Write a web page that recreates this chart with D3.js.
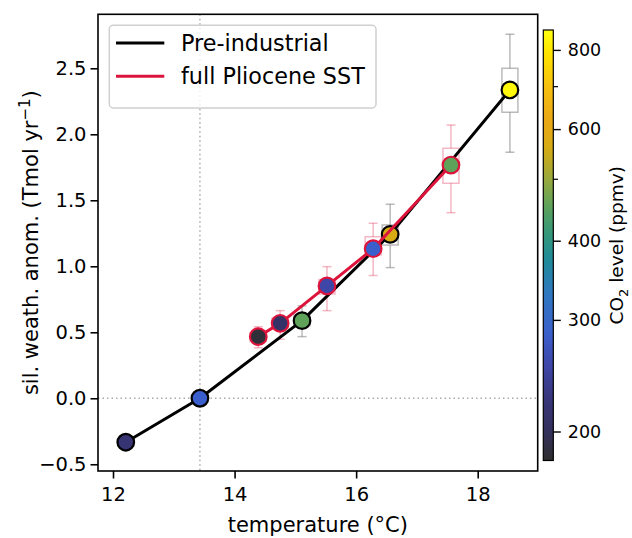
<!DOCTYPE html>
<html>
<head>
<meta charset="utf-8">
<script src="https://cdn.jsdelivr.net/npm/d3@7"></script>
<style>
body { margin: 0; background: #fff; }
text { font-family: "DejaVu Sans", sans-serif; fill: #000; }
</style>
</head>
<body>
<div id="chart"></div>
<script>
// --- data ---
const seriesNames = ["Pre-industrial", "full Pliocene SST"];

// Pre-industrial runs
const piTemp  = [12.21, 13.43, 15.11, 16.56, 18.53];
const piWeath = [-0.333, 0.0, 0.588, 1.242, 2.336];
const piCo2   = [220, 285, 455, 560, 840];
const piLo    = [null, null, 0.467, 0.99, 1.864];
const piQ1    = [null, null, 0.55, 1.161, 2.167];
const piQ3    = [null, null, 0.63, 1.313, 2.50];
const piHi    = [null, null, 0.70, 1.47, 2.758];

// full Pliocene SST runs
const plioTemp  = [14.39, 14.75, 15.52, 16.28, 17.56];
const plioWeath = [0.467, 0.568, 0.851, 1.133, 1.767];
const plioCo2   = [185, 210, 255, 285, 455];
const plioLo    = [0.383, 0.447, 0.664, 0.93, 1.406];
const plioQ1    = [0.43, 0.53, 0.79, 1.086, 1.629];
const plioQ3    = [0.50, 0.61, 0.90, 1.224, 1.894];
const plioHi    = [0.542, 0.664, 0.997, 1.326, 2.07];

const piRefTemp = 13.43;
const xTicks = [12, 14, 16, 18];
const yTicks = [-0.5, 0, 0.5, 1, 1.5, 2, 2.5];
const cbTicks = [200, 300, 400, 600, 800];
const cbMinor = [500, 700];
const co2Range = [180, 860];

// colour map stops (ppmv -> colour)
const cmapCo2 = [180, 200, 225, 255, 285, 330, 375, 420, 455, 500, 560, 620, 700, 780, 860];
const cmapColors = ["#2e2e2e", "#33305c", "#38357a", "#3e46a8", "#3a5fcc", "#2f78c0", "#1f8c98",
  "#3b9a72", "#5fa35a", "#98a93c", "#d6ab14", "#eaa816", "#f6c010", "#fde000", "#ffff10"];

const W = 632, H = 538;
const red = "#dc143c";

const svg = d3.select("#chart").append("svg")
  .attr("width", W).attr("height", H);

const x = d3.scaleLinear().domain([11.753, 18.987]).range([98, 537.7]);
const y = d3.scaleLinear().domain([-0.551, 2.909]).range([471, 14.3]);
const color = d3.scaleLog().domain(cmapCo2).range(cmapColors).interpolate(d3.interpolateRgb);
const cb = d3.scaleLog().domain(co2Range).range([460.5, 30]);

// reference lines
svg.append("line")
  .attr("x1", x(piRefTemp)).attr("x2", x(piRefTemp))
  .attr("y1", y.range()[1]).attr("y2", y.range()[0])
  .attr("stroke", "#aaa").attr("stroke-width", 1.5).attr("stroke-dasharray", "1.5,3");
svg.append("line")
  .attr("x1", x.range()[0]).attr("x2", x.range()[1])
  .attr("y1", y(0)).attr("y2", y(0))
  .attr("stroke", "#aaa").attr("stroke-width", 1.5).attr("stroke-dasharray", "1.5,3");

// box + whisker
function boxes(temp, lo, q1, q3, hi, col, op) {
  const g = svg.append("g").attr("stroke", col).attr("stroke-opacity", op)
    .attr("fill", "none").attr("stroke-width", 1.5);
  temp.forEach((t, i) => {
    if (lo[i] == null) return;
    const cx = x(t);
    g.append("line").attr("x1", cx).attr("x2", cx).attr("y1", y(lo[i])).attr("y2", y(q1[i]));
    g.append("line").attr("x1", cx).attr("x2", cx).attr("y1", y(q3[i])).attr("y2", y(hi[i]));
    g.append("line").attr("x1", cx - 4.5).attr("x2", cx + 4.5).attr("y1", y(lo[i])).attr("y2", y(lo[i]));
    g.append("line").attr("x1", cx - 4.5).attr("x2", cx + 4.5).attr("y1", y(hi[i])).attr("y2", y(hi[i]));
    g.append("rect").attr("x", cx - 8).attr("width", 16)
      .attr("y", y(q3[i])).attr("height", y(q1[i]) - y(q3[i]));
  });
}
boxes(piTemp, piLo, piQ1, piQ3, piHi, "#777", 0.5);
boxes(plioTemp, plioLo, plioQ1, plioQ3, plioHi, red, 0.3);

const line = d3.line().x(d => x(d[0])).y(d => y(d[1]));

function series(temp, val, co2, col) {
  const pts = temp.map((t, i) => [t, val[i], co2[i]]);
  svg.append("path").datum(pts)
    .attr("d", line).attr("fill", "none")
    .attr("stroke", col).attr("stroke-width", 3).attr("stroke-linejoin", "round");
  svg.append("g").selectAll("circle").data(pts).enter().append("circle")
    .attr("cx", d => x(d[0])).attr("cy", d => y(d[1])).attr("r", 8.3)
    .attr("fill", d => color(d[2]))
    .attr("stroke", col).attr("stroke-width", 2.2);
}
series(piTemp, piWeath, piCo2, "#000");
series(plioTemp, plioWeath, plioCo2, red);

// axes
const xAxis = svg.append("g").attr("transform", `translate(0,${y.range()[0]})`)
  .call(d3.axisBottom(x).tickValues(xTicks).tickSize(7.5).tickPadding(9).tickFormat(d3.format("d")));
const yAxis = svg.append("g").attr("transform", `translate(${x.range()[0]},0)`)
  .call(d3.axisLeft(y).tickValues(yTicks).tickSize(7.5).tickPadding(4).tickFormat(d3.format(".1f")));
[xAxis, yAxis].forEach(a => {
  a.select(".domain").remove();
  a.selectAll(".tick line").attr("stroke", "#000").attr("stroke-width", 1.6);
  a.selectAll(".tick text").attr("font-size", 19.5).attr("font-family", "DejaVu Sans");
});

svg.append("rect")
  .attr("x", x.range()[0]).attr("y", y.range()[1])
  .attr("width", x.range()[1] - x.range()[0]).attr("height", y.range()[0] - y.range()[1])
  .attr("fill", "none").attr("stroke", "#000").attr("stroke-width", 1.6);

svg.append("text")
  .attr("x", (x.range()[0] + x.range()[1]) / 2).attr("y", 532)
  .attr("text-anchor", "middle").attr("font-size", 21)
  .text("temperature (°C)");

const yl = svg.append("text")
  .attr("transform", `translate(38,${(y.range()[0] + y.range()[1]) / 2}) rotate(-90)`)
  .attr("text-anchor", "middle").attr("font-size", 21);
yl.append("tspan").text("sil. weath. anom. (Tmol yr");
yl.append("tspan").attr("font-size", 15).attr("dy", -8).text("−1");
yl.append("tspan").attr("dy", 8).text(")");

// legend
const lg = svg.append("g");
lg.append("rect").attr("x", 109.3).attr("y", 25.3).attr("width", 266.7).attr("height", 82.7)
  .attr("rx", 4).attr("fill", "#fff").attr("fill-opacity", 0.8)
  .attr("stroke", "#d0d0d0").attr("stroke-width", 1.5);
[["#000", 43], [red, 76.3]].forEach((d, i) => {
  lg.append("line").attr("x1", 116).attr("x2", 164.3).attr("y1", d[1]).attr("y2", d[1])
    .attr("stroke", d[0]).attr("stroke-width", 3);
  lg.append("text").attr("x", 181).attr("y", d[1] + 8).attr("font-size", 22.3).text(seriesNames[i]);
});

// colourbar
const defs = svg.append("defs");
const grad = defs.append("linearGradient").attr("id", "cbgrad")
  .attr("x1", 0).attr("y1", 1).attr("x2", 0).attr("y2", 0);
d3.range(0, 61).forEach(k => {
  const t = k / 60;
  const v = Math.exp(Math.log(co2Range[0]) + t * (Math.log(co2Range[1]) - Math.log(co2Range[0])));
  grad.append("stop").attr("offset", t).attr("stop-color", color(v));
});
svg.append("rect").attr("x", 543.3).attr("y", cb.range()[1])
  .attr("width", 10).attr("height", cb.range()[0] - cb.range()[1])
  .attr("fill", "url(#cbgrad)").attr("stroke", "#000").attr("stroke-width", 1.2);

const cbAxis = svg.append("g").attr("transform", "translate(553.3,0)")
  .call(d3.axisRight(cb).tickValues(cbTicks).tickSize(7.5).tickPadding(7).tickFormat(d3.format("d")));
cbAxis.select(".domain").remove();
cbAxis.selectAll(".tick line").attr("stroke", "#000").attr("stroke-width", 1.4);
cbAxis.selectAll(".tick text").attr("font-size", 17.5).attr("font-family", "DejaVu Sans");
svg.append("g").selectAll("line").data(cbMinor).enter().append("line")
  .attr("x1", 553.3).attr("x2", 558).attr("y1", d => cb(d)).attr("y2", d => cb(d))
  .attr("stroke", "#000").attr("stroke-width", 1.2);

const cl = svg.append("text")
  .attr("transform", `translate(623,${(cb.range()[0] + cb.range()[1]) / 2}) rotate(-90)`)
  .attr("text-anchor", "middle").attr("font-size", 18.5);
cl.append("tspan").text("CO");
cl.append("tspan").attr("font-size", 13).attr("dy", 5).text("2");
cl.append("tspan").attr("dy", -5).text(" level (ppmv)");
</script>
</body>
</html>
